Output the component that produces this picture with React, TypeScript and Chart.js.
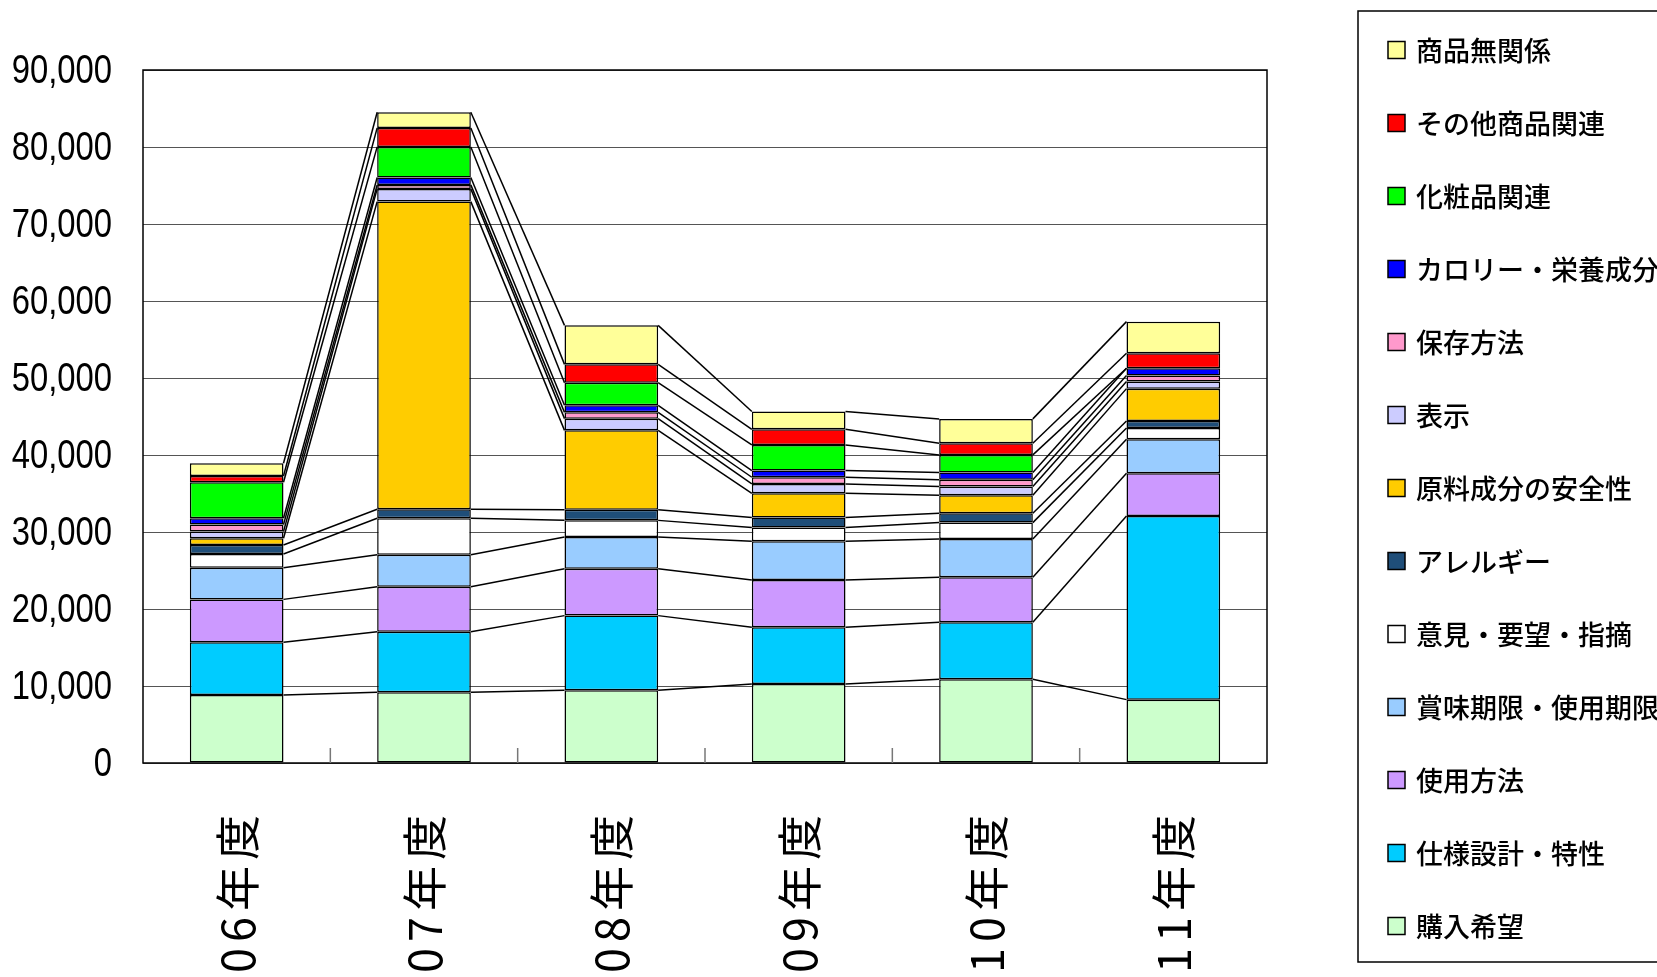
import React, { useEffect, useRef } from 'react';
import { Chart, registerables } from 'chart.js';

Chart.register(...registerables);

// Categories (fiscal years)
const categories = ['06年度', '07年度', '08年度', '09年度', '10年度', '11年度'];

// Series values (bottom of stack to top)
const kounyuKibou = [8830, 9180, 9440, 10260, 10870, 8230];        // 購入希望
const shiyouSekkei = [6840, 7880, 9700, 7360, 7400, 23850];        // 仕様設計・特性
const shiyouHouhou = [5580, 5840, 6100, 6150, 5850, 5540];         // 使用方法
const shoumiKigen = [4110, 4160, 4110, 5020, 4980, 4420];          // 賞味期限・使用期限
const ikenYoubou = [1780, 4720, 2160, 1780, 2120, 1470];           // 意見・要望・指摘
const allergy = [1170, 1170, 1390, 1300, 1210, 910];               // アレルギー
const genryou = [870, 39960, 10300, 3160, 2340, 4200];             // 原料成分の安全性
const hyouji = [870, 1650, 1520, 1210, 1130, 910];                 // 表示
const hozon = [910, 520, 820, 870, 870, 780];                      // 保存方法
const calorie = [820, 950, 910, 870, 950, 950];                    // カロリー・栄養成分
const keshouhin = [4680, 3980, 2940, 3330, 2290, 0];               // 化粧品関連
const sonotaShouhin = [820, 2470, 2380, 2030, 1520, 1950];         // その他商品関連
const shouhinMukankei = [1650, 2030, 5070, 2300, 3160, 4110];      // 商品無関係

const seriesLabels = [
  '購入希望',
  '仕様設計・特性',
  '使用方法',
  '賞味期限・使用期限',
  '意見・要望・指摘',
  'アレルギー',
  '原料成分の安全性',
  '表示',
  '保存方法',
  'カロリー・栄養成分',
  '化粧品関連',
  'その他商品関連',
  '商品無関係',
];
const seriesValues = [
  kounyuKibou, shiyouSekkei, shiyouHouhou, shoumiKigen, ikenYoubou, allergy,
  genryou, hyouji, hozon, calorie, keshouhin, sonotaShouhin, shouhinMukankei,
];
const seriesColors = [
  '#CCFFCC', '#00CCFF', '#CC99FF', '#99CCFF', '#FFFFFF', '#1F4E79',
  '#FFCC00', '#CCCCFF', '#FF99CC', '#0000FF', '#00FF00', '#FF0000', '#FFFF99',
];

const yMin = 0;
const yMax = 90000;
const yStep = 10000;

const CJK = "'Noto Sans CJK JP', 'Noto Sans CJK SC', sans-serif";

const decorPlugin = {
  id: 'decor',
  afterDatasetsDraw(chart: any) {
    const ctx = chart.ctx;
    ctx.save();
    ctx.strokeStyle = '#000';
    ctx.lineWidth = 1.5;
    const metas = chart.getSortedVisibleDatasetMetas();
    for (const meta of metas) {
      const els = meta.data;
      for (let i = 0; i < els.length - 1; i++) {
        const a = els[i].getProps(['x', 'y', 'width'], true);
        const b = els[i + 1].getProps(['x', 'y', 'width'], true);
        ctx.beginPath();
        ctx.moveTo(a.x + a.width / 2, a.y);
        ctx.lineTo(b.x - b.width / 2, b.y);
        ctx.stroke();
      }
    }
    ctx.restore();
  },
  afterDraw(chart: any) {
    const ctx = chart.ctx;
    const area = chart.chartArea;
    const xs = chart.scales.x;
    const ys = chart.scales.y;
    ctx.save();
    // plot border
    ctx.strokeStyle = '#000';
    ctx.lineWidth = 1.5;
    ctx.strokeRect(area.left, area.top, area.right - area.left, area.bottom - area.top);
    // inside tick marks between categories
    ctx.strokeStyle = '#777';
    ctx.lineWidth = 1.5;
    for (let i = 0; i < categories.length - 1; i++) {
      const px = (xs.getPixelForValue(i) + xs.getPixelForValue(i + 1)) / 2;
      ctx.beginPath();
      ctx.moveTo(px, area.bottom);
      ctx.lineTo(px, area.bottom - 15);
      ctx.stroke();
    }
    // y tick labels (condensed)
    ctx.fillStyle = '#000';
    ctx.font = "41px 'Liberation Sans', Arial, sans-serif";
    ctx.textAlign = 'right';
    ctx.textBaseline = 'middle';
    for (const t of ys.ticks) {
      const py = ys.getPixelForValue(t.value);
      ctx.save();
      ctx.translate(area.left - 31, py + 2);
      ctx.scale(0.8, 1);
      ctx.fillText(Number(t.value).toLocaleString('en-US'), 0, 0);
      ctx.restore();
    }
    // x category labels (rotated)
    ctx.fillStyle = '#000';
    ctx.font = `45px ${CJK}`;
    try { (ctx as any).letterSpacing = '6px'; } catch (e) {}
    ctx.textAlign = 'right';
    ctx.textBaseline = 'middle';
    for (let i = 0; i < categories.length; i++) {
      const px = xs.getPixelForValue(i);
      ctx.save();
      ctx.translate(px + 1, area.bottom + 46);
      ctx.rotate(-Math.PI / 2);
      ctx.fillText(categories[i], 0, 0);
      ctx.restore();
    }
    try { (ctx as any).letterSpacing = '0px'; } catch (e) {}
    // legend
    const boxLeft = 1358;
    const boxTop = 11;
    const boxBottom = 962;
    ctx.strokeStyle = '#000';
    ctx.lineWidth = 1.5;
    ctx.strokeRect(boxLeft, boxTop, 400, boxBottom - boxTop);
    ctx.font = `500 27px ${CJK}`;
    ctx.textAlign = 'left';
    ctx.textBaseline = 'middle';
    const ds = chart.data.datasets;
    for (let k = 0; k < ds.length; k++) {
      const d = ds[ds.length - 1 - k];
      const cy = 50 + k * 73;
      ctx.fillStyle = d.backgroundColor;
      ctx.fillRect(1388, cy - 8.5, 17, 17);
      ctx.strokeStyle = '#000';
      ctx.lineWidth = 1.5;
      ctx.strokeRect(1388, cy - 8.5, 17, 17);
      ctx.fillStyle = '#000';
      ctx.fillText(d.label, 1416, cy + 1);
    }
    ctx.restore();
  },
};

export default function App() {
  const canvasRef = useRef<HTMLCanvasElement | null>(null);

  useEffect(() => {
    if (!canvasRef.current) return;
    const datasets = seriesLabels.map((label, i) => ({
      label,
      data: seriesValues[i],
      backgroundColor: seriesColors[i],
      borderColor: '#000',
      borderWidth: 1.5,
      borderSkipped: false as const,
      barPercentage: 0.5,
      categoryPercentage: 1.0,
    }));
    const chart = new Chart(canvasRef.current, {
      type: 'bar',
      data: { labels: categories, datasets },
      options: {
        animation: false,
        responsive: true,
        maintainAspectRatio: false,
        layout: { padding: { top: 70, right: 390, left: 0, bottom: 0 } },
        plugins: {
          legend: { display: false },
          tooltip: { enabled: false },
        },
        scales: {
          x: {
            stacked: true,
            grid: { display: false, drawTicks: false },
            border: { display: false },
            ticks: { display: false },
            afterFit: (scale: any) => { scale.height = 214; },
          },
          y: {
            stacked: true,
            min: yMin,
            max: yMax,
            grid: { color: '#555', lineWidth: 1, drawTicks: false },
            border: { display: false },
            ticks: {
              stepSize: yStep,
              display: false,
            },
            afterFit: (scale: any) => { scale.width = 143; },
          },
        },
      },
      plugins: [decorPlugin],
    });
    return () => chart.destroy();
  }, []);

  return (
    <div style={{ position: 'fixed', left: 0, top: 0, width: '1657px', height: '977px', background: '#fff' }}>
      <canvas ref={canvasRef} />
    </div>
  );
}
